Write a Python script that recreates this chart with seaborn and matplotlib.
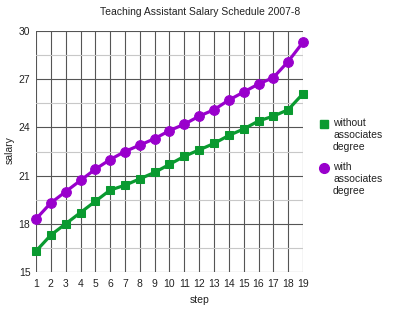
import matplotlib
matplotlib.use("Agg")
import matplotlib.pyplot as plt
import seaborn as sns
import pandas as pd
from matplotlib.lines import Line2D

steps = list(range(1, 20))
without_assoc = [16.3, 17.3, 18.0, 18.7, 19.4, 20.1, 20.4, 20.8, 21.2, 21.7,
                 22.2, 22.6, 23.0, 23.5, 23.9, 24.4, 24.7, 25.1, 26.1]
with_assoc = [18.3, 19.3, 20.0, 20.7, 21.4, 22.0, 22.5, 22.9, 23.3, 23.8,
              24.2, 24.7, 25.1, 25.7, 26.2, 26.7, 27.1, 28.1, 29.3]
series_labels = ["without\nassociates\ndegree", "with\nassociates\ndegree"]
y_ticks = [15, 18, 21, 24, 27, 30]

sns.set_theme(style="white")
plt.rcParams['font.family'] = ['Liberation Sans', 'DejaVu Sans']

df = pd.DataFrame({
    "step": steps * 2,
    "salary": without_assoc + with_assoc,
    "series": [series_labels[0]] * len(steps) + [series_labels[1]] * len(steps),
})

fig = plt.figure(figsize=(4.0, 3.09), dpi=100)
ax = fig.add_axes([0.09, 0.1197, 0.6675, 0.78])

green = "#0a9a30"
purple = "#9900cc"
txt = "#222222"

# grid
for s in steps:
    ax.axvline(s, color="#555555", lw=0.8, zorder=0)
for y in [16.5, 19.5, 22.5, 25.5, 28.5]:
    ax.axhline(y, color="#c8c8c8", lw=0.8, zorder=0)
for y in y_ticks:
    ax.axhline(y, color="#555555", lw=0.8, zorder=0)

sns.lineplot(data=df[df.series == series_labels[0]], x="step", y="salary",
             color=green, lw=2.3, marker="s", markersize=6.3,
             markeredgecolor=green, ax=ax, legend=False, zorder=3, clip_on=False)
sns.lineplot(data=df[df.series == series_labels[1]], x="step", y="salary",
             color=purple, lw=2.3, marker="o", markersize=7,
             markeredgecolor=purple, ax=ax, legend=False, zorder=3, clip_on=False)

ax.set_xlim(1, 19)
ax.set_ylim(15, 30)
ax.set_xticks(steps)
ax.set_yticks(y_ticks)
ax.tick_params(axis="both", length=0, labelsize=7.5, colors=txt)
ax.tick_params(axis="x", pad=5)
ax.tick_params(axis="y", pad=4)
for sp in ax.spines.values():
    sp.set_visible(False)
ax.set_xlabel("")
ax.set_ylabel("")

fig.text(0.5, 0.962, "Teaching Assistant Salary Schedule 2007-8",
         ha="center", va="center", fontsize=7.5, color=txt)
fig.text(0.5, 0.03, "step", ha="center", va="center", fontsize=7.5, color=txt)
fig.text(0.025, 0.515, "salary", ha="center", va="center", rotation=90,
         fontsize=7.5, color=txt)

# legend (manual, markers aligned with first text line)
W, H = 400.0, 309.0
legend_items = [(series_labels[0], green, "s", 6.3, 124),
                (series_labels[1], purple, "o", 7, 168)]
for label, col, mk, ms, ypix in legend_items:
    fig.add_artist(Line2D([324 / W], [1 - ypix / H], transform=fig.transFigure,
                          color=col, marker=mk, markersize=ms, linestyle="none"))
    fig.text(333 / W, 1 - (ypix - 6) / H, label, ha="left", va="top",
             fontsize=7.5, color=txt, linespacing=1.25)

fig.savefig("out.png", dpi=100)
